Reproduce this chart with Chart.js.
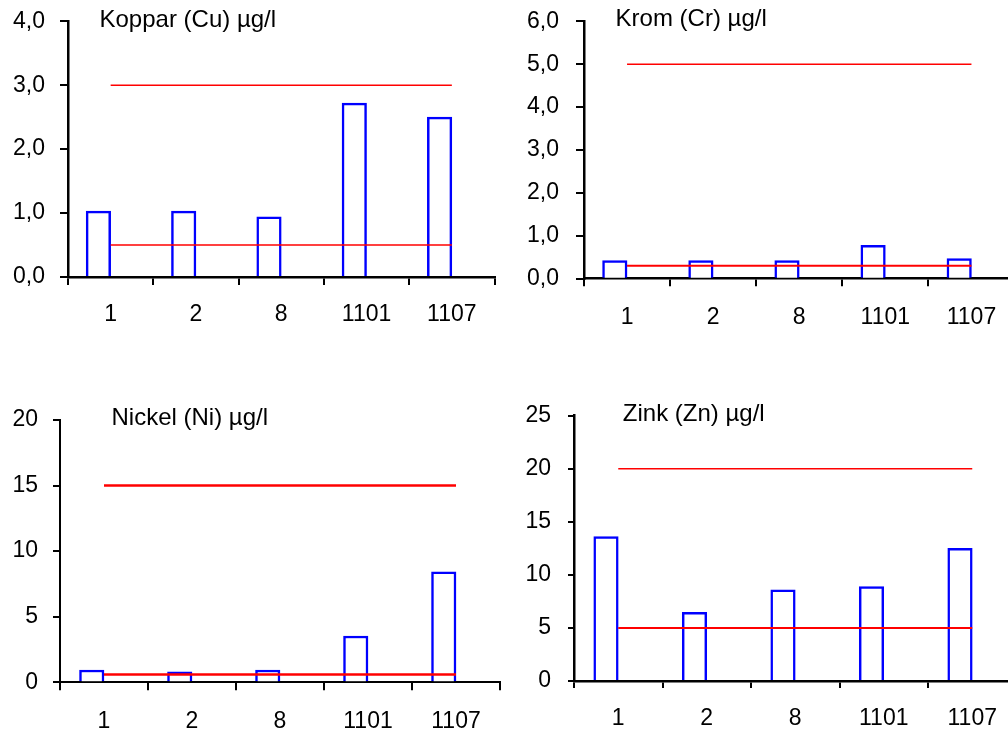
<!DOCTYPE html>
<html>
<head>
<meta charset="utf-8">
<script src="https://cdn.jsdelivr.net/npm/chart.js@4/dist/chart.umd.min.js"></script>
<style>
  html, body { margin: 0; padding: 0; width: 1008px; height: 738px; overflow: hidden; background: #fff; }
  canvas { position: absolute; }
  .ttl { position: absolute; font-family: "Liberation Sans", Arial, sans-serif; font-size: 24px; line-height: 24px; color: #000; white-space: nowrap; }
</style>
</head>
<body>
<canvas id="c1" width="504" height="369" style="left:0px;top:0px"></canvas>
<canvas id="c2" width="520" height="369" style="left:504px;top:0px"></canvas>
<canvas id="c3" width="504" height="369" style="left:0px;top:369px"></canvas>
<canvas id="c4" width="520" height="369" style="left:504px;top:369px"></canvas>
<div class="ttl" style="left:99.5px;top:7px">Koppar (Cu) µg/l</div>
<div class="ttl" style="left:615.6px;top:6.4px">Krom (Cr) µg/l</div>
<div class="ttl" style="left:111.5px;top:405.4px">Nickel (Ni) µg/l</div>
<div class="ttl" style="left:622.8px;top:401.4px">Zink (Zn) µg/l</div>
<script>
// ---- data ----
const categories = ['1', '2', '8', '1101', '1107'];

const cuValues = [1.03, 1.03, 0.94, 2.72, 2.50];
const cuUpper  = [3.0, 3.0, 3.0, 3.0, 3.0];
const cuLower  = [0.5, 0.5, 0.5, 0.5, 0.5];
const cuTicks  = ['0,0', '1,0', '2,0', '3,0', '4,0'];

const crValues = [0.42, 0.42, 0.42, 0.78, 0.47];
const crUpper  = [5.0, 5.0, 5.0, 5.0, 5.0];
const crLower  = [0.3, 0.3, 0.3, 0.3, 0.3];
const crTicks  = ['0,0', '1,0', '2,0', '3,0', '4,0', '5,0', '6,0'];

const niValues = [0.94, 0.80, 0.94, 3.53, 8.42];
const niUpper  = [15, 15, 15, 15, 15];
const niLower  = [0.6, 0.6, 0.6, 0.6, 0.6];
const niTicks  = ['0', '5', '10', '15', '20'];

const znValues = [13.6, 6.46, 8.59, 8.9, 12.5];
const znUpper  = [20, 20, 20, 20, 20];
const znLower  = [5, 5, 5, 5, 5];
const znTicks  = ['0', '5', '10', '15', '20', '25'];

const emptySlot = [null, null, null, null, null];

// ---- drawing ----
const FONT = '"Liberation Sans", Arial, sans-serif';

function makePanel(id, values, upper, lower, tickLabels, yMax, yStep, lay) {
  new Chart(document.getElementById(id), {
    type: 'bar',
    data: {
      labels: categories,
      datasets: [
        { type: 'line', data: upper, borderColor: '#ff0000', borderWidth: lay.lineW, pointRadius: 0, tension: 0, fill: false, order: 0 },
        { type: 'line', data: lower, borderColor: '#ff0000', borderWidth: lay.lineW2, pointRadius: 0, tension: 0, fill: false, order: 0 },
        { type: 'bar', data: values, backgroundColor: '#ffffff', borderColor: '#0000ff', borderWidth: 2.5, barThickness: 24.5, order: 1 },
        { type: 'bar', data: emptySlot, backgroundColor: 'rgba(0,0,0,0)', borderWidth: 0, barThickness: 24.5, order: 1 }
      ]
    },
    options: {
      responsive: false,
      animation: false,
      devicePixelRatio: 1,
      layout: { padding: { top: lay.padTop, right: lay.padRight, left: 0, bottom: 0 } },
      plugins: { legend: { display: false }, tooltip: { enabled: false }, title: { display: false } },
      scales: {
        x: {
          type: 'category',
          offset: true,
          grid: { display: true, offset: true, drawOnChartArea: false, drawTicks: true, tickLength: lay.xTick, color: '#000', lineWidth: 2 },
          border: { display: true, color: '#000', width: lay.axisW },
          ticks: { color: '#000', font: { family: FONT, size: 23 }, padding: lay.xPad, maxRotation: 0, autoSkip: false },
          afterFit: (s) => { s.height = lay.xH; s.paddingLeft = 0; s.paddingRight = 0; }
        },
        y: {
          min: 0, max: yMax,
          grid: { display: true, drawOnChartArea: false, drawTicks: true, tickLength: lay.yTick, color: '#000', lineWidth: 2 },
          border: { display: true, color: '#000', width: lay.axisW },
          ticks: { stepSize: yStep, color: '#000', font: { family: FONT, size: 23 }, padding: lay.yPad,
                   callback: (v, i) => tickLabels[i] },
          afterFit: (s) => { s.width = lay.yW; s.paddingTop = 0; s.paddingBottom = 0; }
        }
      }
    }
  });
}

makePanel('c1', cuValues, cuUpper, cuLower, cuTicks, 4, 1,
  { padTop: 21.3, padRight: 9.5, yW: 68, xH: 92, xTick: 8, yTick: 8, xPad: 15.5, yPad: 15, lineW: 1.5, lineW2: 1.5, axisW: 2.5 });
makePanel('c2', crValues, crUpper, crLower, crTicks, 6, 1,
  { padTop: 21.3, padRight: 9.5, yW: 80, xH: 90.3, xTick: 7.5, yTick: 8, xPad: 17.5, yPad: 17, lineW: 1.5, lineW2: 2, axisW: 2.5 });
makePanel('c3', niValues, niUpper, niLower, niTicks, 20, 5,
  { padTop: 51, padRight: 4, yW: 60, xH: 55.7, xTick: 8, yTick: 7, xPad: 17.5, yPad: 15, lineW: 2.5, lineW2: 2.5, axisW: 2 });
makePanel('c4', znValues, znUpper, znLower, znTicks, 25, 5,
  { padTop: 46.7, padRight: 7.5, yW: 70, xH: 57, xTick: 7, yTick: 6, xPad: 16.5, yPad: 17, lineW: 1.5, lineW2: 2, axisW: 2.5 });
</script>
</body>
</html>
